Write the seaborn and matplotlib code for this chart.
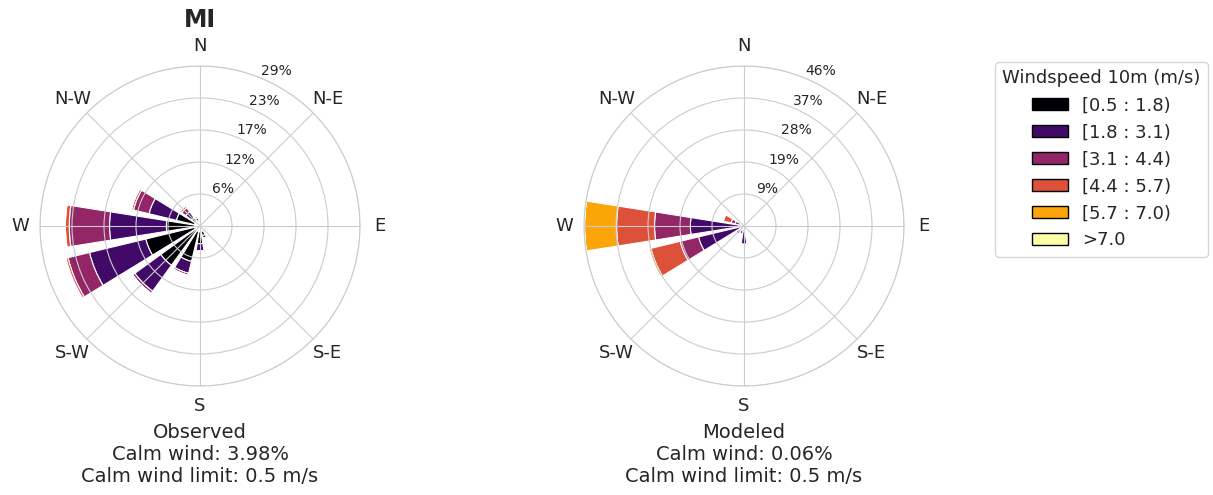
import numpy as np
import matplotlib
matplotlib.use("Agg")
import matplotlib.pyplot as plt
import seaborn as sns
from matplotlib.patches import Patch

sns.set_style("whitegrid")
plt.rcParams['font.family'] = ['DejaVu Sans']

# 16 sectors, compass degrees
directions = ['N', 'NNE', 'NE', 'ENE', 'E', 'ESE', 'SE', 'SSE',
              'S', 'SSW', 'SW', 'WSW', 'W', 'WNW', 'NW', 'NNW']
speed_bins = ['[0.5 : 1.8)', '[1.8 : 3.1)', '[3.1 : 4.4)', '[4.4 : 5.7)', '[5.7 : 7.0)', '>7.0']
compass_labels = ['E', 'N-E', 'N', 'N-W', 'W', 'S-W', 'S', 'S-E']

# frequencies (%) per speed bin, observed
obs_05_18 = [0.2, 0.1, 0.1, 0.1, 0.1, 0.3, 0.3, 0.8, 2.2, 5.6, 7.8, 9.1, 5.1, 3.4, 0.9, 0.5]
obs_18_31 = [0.1, 0.0, 0.0, 0.0, 0.0, 0.1, 0.1, 0.5, 1.3, 2.2, 5.8, 10.5, 10.3, 5.1, 1.3, 0.3]
obs_31_44 = [0.0, 0.0, 0.0, 0.0, 0.0, 0.0, 0.0, 0.0, 0.0, 0.4, 0.5, 4.0, 7.3, 2.9, 0.9, 0.1]
obs_44_57 = [0.0, 0.0, 0.0, 0.0, 0.0, 0.0, 0.0, 0.0, 0.0, 0.0, 0.0, 0.4, 0.7, 0.4, 0.4, 0.0]
obs_57_70 = [0.0, 0.0, 0.0, 0.0, 0.0, 0.0, 0.0, 0.0, 0.0, 0.0, 0.0, 0.1, 0.2, 0.0, 0.0, 0.0]
obs_70 = [0.0] * 16

# modeled
mod_05_18 = [0.0, 0.0, 0.0, 0.0, 0.0, 0.1, 0.1, 0.1, 0.2, 0.2, 0.2, 0.3, 0.3, 0.2, 0.1, 0.0]
mod_18_31 = [0.2, 0.0, 0.0, 0.0, 0.0, 0.1, 0.2, 0.5, 5.0, 2.0, 2.5, 13.1, 15.1, 2.3, 0.6, 0.3]
mod_31_44 = [0.0, 0.0, 0.0, 0.0, 0.0, 0.0, 0.0, 0.0, 0.0, 0.3, 0.4, 5.5, 10.4, 1.2, 0.3, 0.0]
mod_44_57 = [0.0, 0.0, 0.0, 0.0, 0.0, 0.0, 0.0, 0.0, 0.0, 0.0, 0.0, 8.7, 11.0, 2.3, 0.2, 0.0]
mod_57_70 = [0.0, 0.0, 0.0, 0.0, 0.0, 0.0, 0.0, 0.0, 0.0, 0.0, 0.0, 0.6, 9.3, 0.3, 0.0, 0.0]
mod_70 = [0.0] * 16

obs_rmax = 29.0
mod_rmax = 46.4
obs_calm = 3.98
mod_calm = 0.06
calm_limit = 0.5

colors = sns.color_palette("inferno", as_cmap=True)(np.linspace(0, 1, 6))


def draw_rose(ax, table, rmax, hole, xlabel):
    sector = 2 * np.pi / 16
    # compass -> math angle
    theta = np.radians(90 - np.arange(16) * 22.5)
    bottom = np.full(16, hole)
    for vals, c in zip(table, colors):
        vals = np.asarray(vals)
        ax.bar(theta, vals, width=sector * 0.8, bottom=bottom, color=c,
               edgecolor='white', linewidth=0.8)
        bottom = bottom + vals
    ax.set_ylim(0, rmax)
    radii = np.linspace(0, rmax, 6)[1:]
    ax.set_rgrids(radii, labels=[f"{r:.0f}%" for r in radii], angle=67.5, fontsize=10)
    ax.set_thetagrids(np.arange(0, 360, 45), labels=compass_labels, fontsize=13)
    ax.set_axisbelow(False)
    ax.grid(color='#cccccc', linewidth=0.8)
    ax.spines['polar'].set_color('#cccccc')
    ax.tick_params(axis='x', pad=4)
    ax.set_xlabel(xlabel, fontsize=14, labelpad=6)


fig = plt.figure(figsize=(12.13, 4.95), dpi=100)
ax1 = fig.add_axes([40 / 1213, 1 - 386 / 495, 320 / 1213, 320 / 495], projection='polar')
ax2 = fig.add_axes([584 / 1213, 1 - 386 / 495, 320 / 1213, 320 / 495], projection='polar')

draw_rose(ax1, [obs_05_18, obs_18_31, obs_31_44, obs_44_57, obs_57_70, obs_70], obs_rmax, 1.0,
          f"Observed\nCalm wind: {obs_calm:.2f}%\nCalm wind limit: {calm_limit} m/s")
draw_rose(ax2, [mod_05_18, mod_18_31, mod_31_44, mod_44_57, mod_57_70, mod_70], mod_rmax, 0.15,
          f"Modeled\nCalm wind: {mod_calm:.2f}%\nCalm wind limit: {calm_limit} m/s")

fig.text(200 / 1213, 1 - 20 / 495, "MI", fontsize=17, fontweight='bold',
         ha='center', va='center', color='#262626')

handles = [Patch(facecolor=c, edgecolor='black', label=l) for c, l in zip(colors, speed_bins)]
fig.legend(handles=handles, title="Windspeed 10m (m/s)", loc='upper left',
           bbox_to_anchor=(995 / 1213, 1 - 62 / 495), borderaxespad=0,
           fontsize=13, title_fontsize=13)

fig.savefig("out.png", dpi=100)
